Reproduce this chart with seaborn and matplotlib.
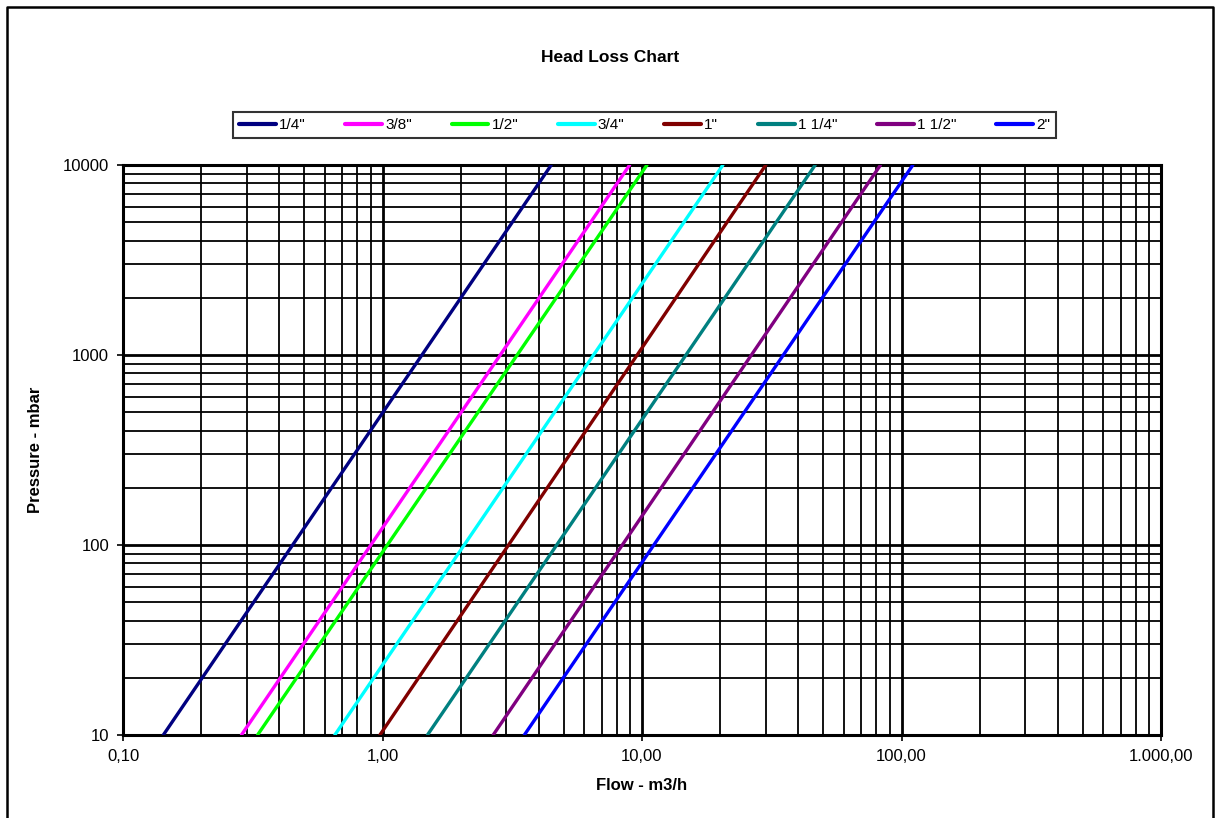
import numpy as np
import pandas as pd
import seaborn as sns
import matplotlib.pyplot as plt
from matplotlib.lines import Line2D
from matplotlib.ticker import LogLocator, FixedLocator, FuncFormatter, NullFormatter

# Pipe sizes and the flow (m3/h) read where each line hits 10 and 10000 mbar
sizes = ['1/4"', '3/8"', '1/2"', '3/4"', '1"', '1 1/4"', '1 1/2"', '2"']
pressure_pts = [10, 10000]
flow_at_10 = [0.143, 0.286, 0.330, 0.655, 0.977, 1.49, 2.67, 3.52]
flow_at_10000 = [4.47, 8.96, 10.45, 20.5, 30.0, 46.5, 83.0, 110.6]
colors = ['#000080', '#FF00FF', '#00FF00', '#00FFFF',
          '#800000', '#008080', '#800080', '#0000FF']

x_ticks = [0.1, 1, 10, 100, 1000]
x_tick_labels = ['0,10', '1,00', '10,00', '100,00', '1.000,00']
y_ticks = [10, 100, 1000, 10000]
y_tick_labels = ['10', '100', '1000', '10000']

rows = []
for s, f0, f1 in zip(sizes, flow_at_10, flow_at_10000):
    rows.append({'size': s, 'flow': f0, 'pressure': pressure_pts[0]})
    rows.append({'size': s, 'flow': f1, 'pressure': pressure_pts[1]})
df = pd.DataFrame(rows)

sns.set_style('white')
plt.rcParams['font.family'] = ['Liberation Sans', 'DejaVu Sans']
plt.rcParams['text.color'] = 'black'
plt.rcParams['axes.labelcolor'] = 'black'
plt.rcParams['xtick.color'] = 'black'
plt.rcParams['ytick.color'] = 'black'

W, H = 1220, 818
fig = plt.figure(figsize=(W / 100, H / 100), dpi=100)

# outer frame (bottom edge is cut off in the reference)
fx = [7 / W, 7 / W, (W - 7) / W, (W - 7) / W]
fy = [0, (H - 7) / H, (H - 7) / H, 0]
fig.add_artist(Line2D(fx, fy, transform=fig.transFigure, color='black', linewidth=1.8))

left, right, top, bottom = 123, 1161, 165, 735
ax = fig.add_axes([left / W, 1 - bottom / H, (right - left) / W, (bottom - top) / H])

sns.lineplot(data=df, x='flow', y='pressure', hue='size', hue_order=sizes,
             palette=colors, linewidth=2.4, ax=ax, legend=True, zorder=3)

ax.set_xscale('log')
ax.set_yscale('log')
ax.set_xlim(0.1, 1000)
ax.set_ylim(10, 10000)

ax.xaxis.set_major_locator(FixedLocator(x_ticks))
ax.yaxis.set_major_locator(FixedLocator(y_ticks))
ax.xaxis.set_major_formatter(FuncFormatter(lambda v, p: x_tick_labels[x_ticks.index(v)] if v in x_ticks else ''))
ax.yaxis.set_major_formatter(FuncFormatter(lambda v, p: y_tick_labels[y_ticks.index(v)] if v in y_ticks else ''))
ax.xaxis.set_minor_locator(LogLocator(base=10, subs=np.arange(2, 10)))
ax.yaxis.set_minor_locator(LogLocator(base=10, subs=np.arange(2, 10)))
ax.xaxis.set_minor_formatter(NullFormatter())
ax.yaxis.set_minor_formatter(NullFormatter())

ax.grid(which='major', color='black', linewidth=2.0, zorder=1)
ax.grid(which='minor', color='black', linewidth=1.3, zorder=1)
ax.set_axisbelow(True)

ax.tick_params(which='major', direction='out', length=4, width=1.2, color='black',
               labelsize=12, pad=6, bottom=True, left=True)
ax.tick_params(which='minor', length=0)
for sp in ax.spines.values():
    sp.set_color('black')
    sp.set_linewidth(2.2)

ax.set_xlabel('Flow - m3/h', fontsize=12, fontweight='bold', labelpad=10)
ax.set_ylabel('Pressure - mbar', fontsize=12, fontweight='bold', labelpad=14)

fig.text(0.5, 1 - 57 / H, 'Head Loss Chart', ha='center', va='center',
         fontsize=12.5, fontweight='bold')

handles, labels = ax.get_legend_handles_labels()
ax.get_legend().remove()
leg = fig.legend(handles, labels, ncol=8, loc='lower left', mode='expand',
                 bbox_to_anchor=(233 / W, 1 - 138 / H, (1056 - 233) / W, 29 / H),
                 fontsize=11, handlelength=2.4, handletextpad=0.2,
                 borderaxespad=0, frameon=True, fancybox=False)
leg.get_frame().set_edgecolor('black')
leg.get_frame().set_linewidth(1.5)
for ln in leg.get_lines():
    ln.set_linewidth(3)

fig.savefig('out.png', dpi=100)
